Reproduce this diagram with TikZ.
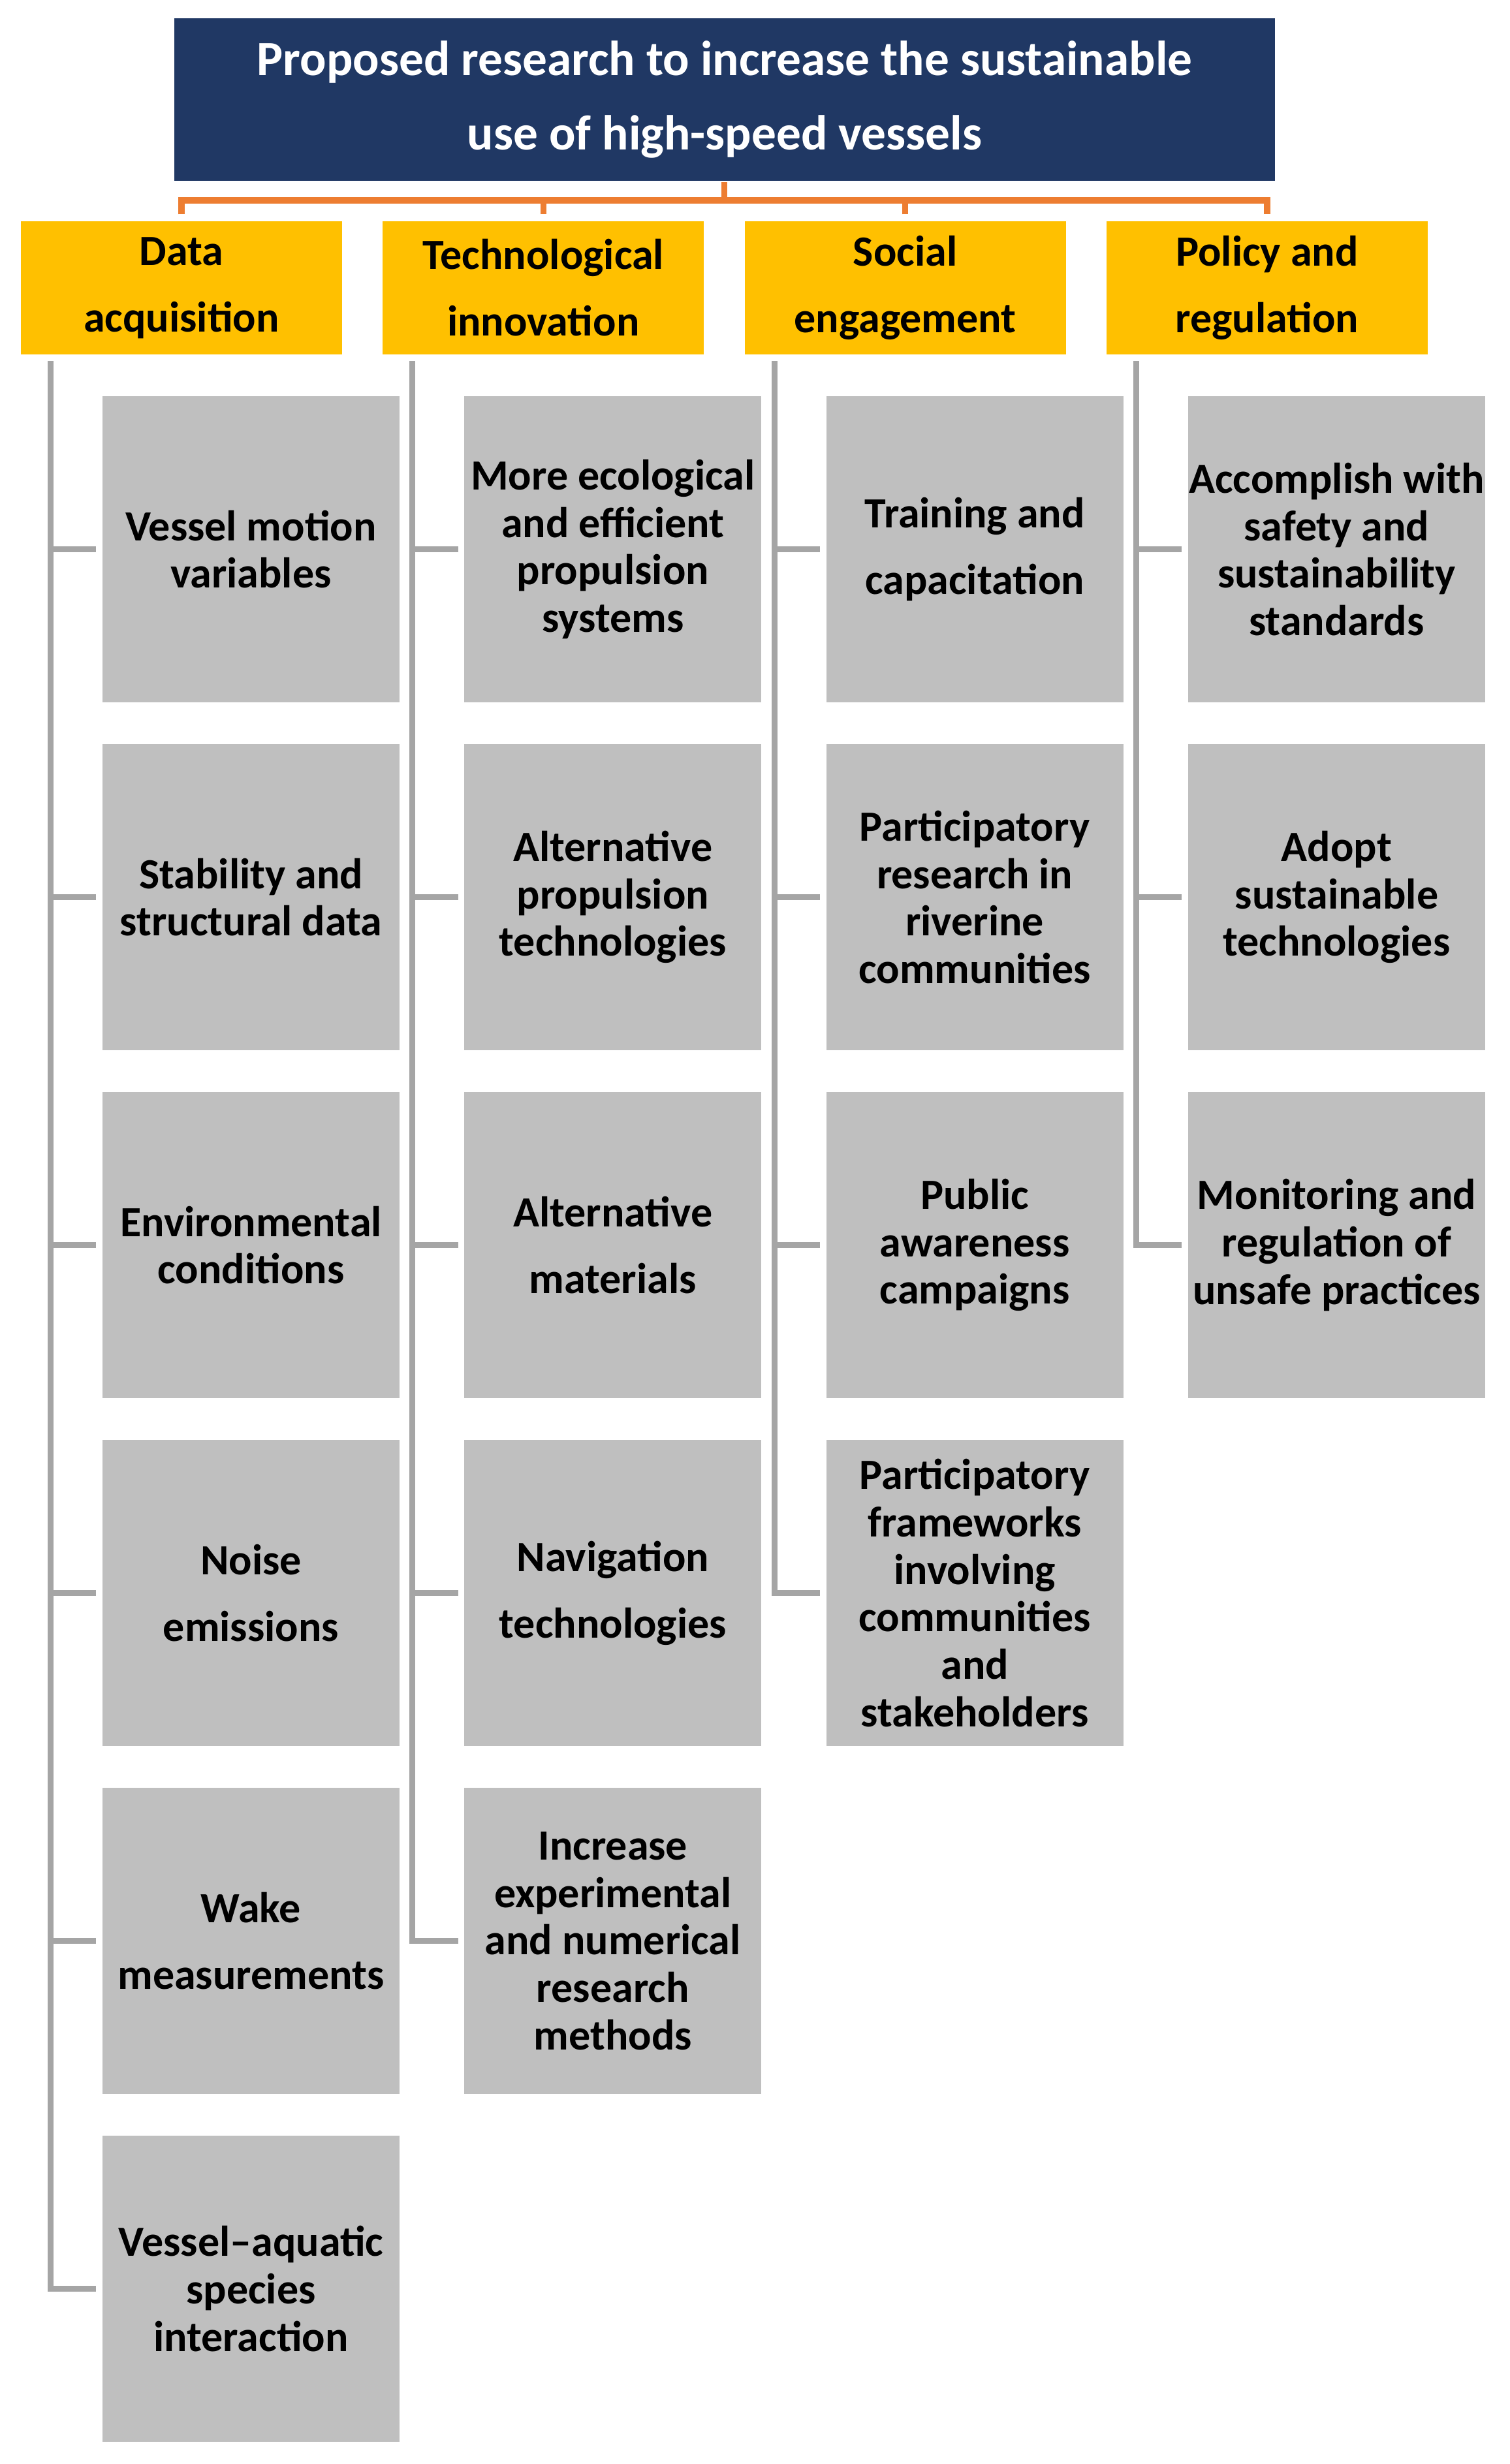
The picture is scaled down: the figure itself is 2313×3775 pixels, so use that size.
\documentclass[tikz,border=0pt]{standalone}
\usepackage{fontspec}
\setmainfont{Carlito}
\definecolor{navy}{HTML}{203864}
\definecolor{orng}{HTML}{ED7D31}
\definecolor{ylw}{HTML}{FFC000}
\definecolor{gbox}{HTML}{BFBFBF}
\definecolor{gline}{HTML}{A5A5A5}
\begin{document}
\begin{tikzpicture}[x=0.3pt,y=-0.3pt,
  titlebox/.style={fill=navy,text=white,inner sep=0pt,minimum width=505.8pt,minimum height=74.7pt,align=center,
    font=\bfseries\fontsize{22.6}{34.2}\selectfont},
  catbox/.style={fill=ylw,text=black,inner sep=0pt,minimum width=147.6pt,minimum height=61.2pt,align=center,
    font=\bfseries\fontsize{19.8}{30.6}\selectfont},
  itembox/.style={fill=gbox,text=black,inner sep=0pt,minimum width=136.5pt,minimum height=140.7pt,align=center,
    font=\bfseries\fontsize{19.8}{21.8}\selectfont},
  loose/.style={font=\bfseries\fontsize{19.8}{30.6}\selectfont},
  oline/.style={draw=orng,line width=2.85pt,line join=miter,line cap=rect},
  gl/.style={draw=gline,line width=2.7pt,line join=miter},
]
\useasboundingbox (0,0) rectangle (2313,3775);
% title
\node[titlebox] (title) at (1110,152) {Proposed research to increase the sustainable\\use of high-speed vessels};
% categories
\node[catbox] (c1) at (278,441) {Data\\acquisition};
\node[catbox] (c2) at (832.3,441) {Technological\\innovation};
\node[catbox] (c3) at (1386.6,441) {Social\\engagement};
\node[catbox] (c4) at (1940.9,441) {Policy and\\regulation};
% orange connectors
\coordinate (ot) at (1109.5,284);
\coordinate (bar) at (1109.5,307);
\draw[oline] (ot) -- (bar);
\draw[oline,line cap=butt] ([yshift=3pt]c1.north) -- (c1.north |- bar) -- (c4.north |- bar) -- ([yshift=3pt]c4.north);
\draw[oline,line cap=butt] ([yshift=3pt]c2.north) -- (c2.north |- bar);
\draw[oline,line cap=butt] ([yshift=3pt]c3.north) -- (c3.north |- bar);
% column 1
\node[itembox] (a1) at (384.5,841.5) {Vessel motion\\variables};
\node[itembox] (a2) at (384.5,1374.5) {Stability and\\structural data};
\node[itembox] (a3) at (384.5,1907.5) {Environmental\\conditions};
\node[itembox,loose] (a4) at (384.5,2440.5) {Noise\\emissions};
\node[itembox,loose] (a5) at (384.5,2973.5) {Wake\\measurements};
\node[itembox] (a6) at (384.5,3506.5) {Vessel–aquatic\\species\\interaction};
% column 2
\node[itembox] (b1) at (938.8,841.5) {More ecological\\and efficient\\propulsion\\systems};
\node[itembox] (b2) at (938.8,1374.5) {Alternative\\propulsion\\technologies};
\node[itembox,loose] (b3) at (938.8,1907.5) {Alternative\\materials};
\node[itembox,loose] (b4) at (938.8,2440.5) {Navigation\\technologies};
\node[itembox] (b5) at (938.8,2973.5) {Increase\\experimental\\and numerical\\research\\methods};
% column 3
\node[itembox,loose] (s1) at (1493.1,841.5) {Training and\\capacitation};
\node[itembox] (s2) at (1493.1,1374.5) {Participatory\\research in\\riverine\\communities};
\node[itembox] (s3) at (1493.1,1907.5) {Public\\awareness\\campaigns};
\node[itembox] (s4) at (1493.1,2440.5) {Participatory\\frameworks\\involving\\communities\\and\\stakeholders};
% column 4
\node[itembox] (p1) at (2047.4,841.5) {Accomplish with\\safety and\\sustainability\\standards};
\node[itembox] (p2) at (2047.4,1374.5) {Adopt\\sustainable\\technologies};
\node[itembox] (p3) at (2047.4,1907.5) {Monitoring and\\regulation of\\unsafe practices};
% gray trunk coordinates
\coordinate (v1) at (77.5,553);
\coordinate (v2) at (631.8,553);
\coordinate (v3) at (1186.1,553);
\coordinate (v4) at (1740.4,553);
% column 1 connectors
\draw[gl] (v1) |- ([xshift=-2.7pt]a6.west);
\foreach \n in {a1,a2,a3,a4,a5} \draw[gl] (v1 |- \n.west) -- ([xshift=-2.7pt]\n.west);
% column 2 connectors
\draw[gl] (v2) |- ([xshift=-2.7pt]b5.west);
\foreach \n in {b1,b2,b3,b4} \draw[gl] (v2 |- \n.west) -- ([xshift=-2.7pt]\n.west);
% column 3 connectors
\draw[gl] (v3) |- ([xshift=-2.7pt]s4.west);
\foreach \n in {s1,s2,s3} \draw[gl] (v3 |- \n.west) -- ([xshift=-2.7pt]\n.west);
% column 4 connectors
\draw[gl] (v4) |- ([xshift=-2.7pt]p3.west);
\foreach \n in {p1,p2} \draw[gl] (v4 |- \n.west) -- ([xshift=-2.7pt]\n.west);
\end{tikzpicture}
\end{document}
